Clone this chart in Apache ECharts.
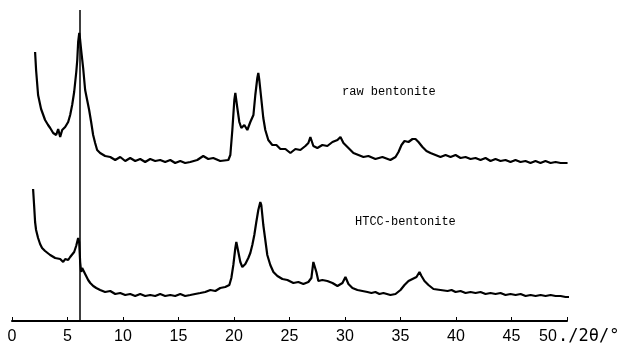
<!DOCTYPE html>
<html>
<head>
<meta charset="utf-8">
<script src="https://cdn.jsdelivr.net/npm/echarts@6/dist/echarts.min.js"></script>
<style>
  html, body { margin: 0; padding: 0; background: #fff; }
  #chart { width: 632px; height: 353px; }
</style>
</head>
<body>
<div id="chart"></div>
<script>
// 2θ (deg) and intensity (arbitrary units)
const rawPattern = [
  [2.08, 269], [2.17, 251], [2.35, 226], [2.62, 212], [2.98, 201], [3.25, 196],
  [3.44, 193], [3.71, 188], [3.98, 186], [4.16, 192], [4.34, 184], [4.52, 191],
  [4.79, 194], [5.06, 199], [5.24, 206], [5.42, 216], [5.6, 229], [5.79, 249],
  [5.88, 261], [5.96, 279], [6.06, 288], [6.14, 281], [6.23, 271], [6.41, 253],
  [6.59, 231], [6.77, 221], [6.95, 211], [7.13, 199], [7.31, 186], [7.49, 178],
  [7.67, 171], [7.94, 168], [8.39, 165], [8.85, 164], [9.3, 161], [9.75, 164],
  [10.2, 160], [10.65, 163], [11.1, 160], [11.55, 162], [12.0, 159], [12.45, 162],
  [12.9, 160], [13.35, 161], [13.8, 159], [14.26, 161], [14.7, 158], [15.16, 160],
  [15.6, 158], [16.06, 159], [16.69, 161], [17.23, 165], [17.68, 162], [18.13, 163],
  [18.76, 160], [19.49, 161], [19.67, 166], [19.85, 191], [20.03, 221], [20.12, 228],
  [20.3, 213], [20.48, 199], [20.66, 193], [20.93, 196], [21.2, 191], [21.47, 199],
  [21.75, 206], [21.92, 226], [22.1, 243], [22.19, 248], [22.28, 241], [22.47, 221],
  [22.64, 203], [22.82, 191], [23.09, 181], [23.45, 176], [23.82, 176], [24.18, 172],
  [24.63, 172], [25.08, 168], [25.53, 172], [25.98, 171], [26.43, 175], [26.7, 178],
  [26.88, 184], [27.15, 175], [27.51, 173], [27.96, 176], [28.41, 175], [28.87, 179],
  [29.32, 181], [29.59, 184], [29.86, 178], [30.22, 174], [30.49, 171], [30.76, 168],
  [31.21, 166], [31.66, 164], [32.11, 165], [32.74, 162], [33.37, 164], [34.09, 161],
  [34.55, 164], [34.82, 169], [35.09, 176], [35.36, 180], [35.72, 179], [36.08, 182],
  [36.35, 182], [36.62, 179], [36.98, 174], [37.34, 170], [37.7, 168], [38.15, 166],
  [38.6, 164], [39.06, 166], [39.51, 164], [39.96, 166], [40.41, 163], [40.86, 164],
  [41.31, 162], [41.76, 163], [42.21, 161], [42.66, 163], [43.11, 160], [43.56, 162],
  [44.01, 160], [44.46, 161], [44.91, 159], [45.36, 161], [45.81, 159], [46.26, 160],
  [46.71, 158], [47.16, 160], [47.61, 158], [48.06, 160], [48.52, 158], [48.97, 159],
  [49.42, 158], [50.05, 158]
];

const htccPattern = [
  [1.9, 132], [1.99, 116], [2.08, 99], [2.17, 91], [2.35, 83], [2.53, 77],
  [2.71, 73], [2.98, 70], [3.16, 68], [3.44, 66], [3.89, 63], [4.34, 62],
  [4.61, 59], [4.79, 62], [5.06, 61], [5.24, 64], [5.42, 65], [5.6, 69],
  [5.78, 75], [5.96, 83], [6.05, 79], [6.14, 59], [6.23, 49], [6.32, 53],
  [6.5, 49], [6.68, 45], [6.86, 41], [7.05, 38], [7.32, 35], [7.59, 33],
  [7.94, 31], [8.39, 29], [8.85, 30], [9.3, 27], [9.75, 28], [10.2, 26],
  [10.65, 27], [11.1, 25], [11.55, 27], [12.0, 25], [12.45, 26], [12.9, 25],
  [13.35, 27], [13.8, 25], [14.26, 26], [14.7, 25], [15.16, 27], [15.6, 25],
  [16.06, 26], [16.5, 27], [16.96, 28], [17.41, 29], [17.87, 31], [18.32, 30],
  [18.76, 33], [19.21, 34], [19.58, 36], [19.76, 43], [19.94, 56], [20.12, 73],
  [20.21, 79], [20.39, 69], [20.57, 59], [20.75, 54], [21.02, 57], [21.29, 63],
  [21.47, 68], [21.65, 76], [21.83, 86], [22.01, 99], [22.19, 111], [22.37, 119],
  [22.46, 116], [22.64, 96], [22.82, 81], [23.0, 66], [23.27, 56], [23.55, 49],
  [23.91, 45], [24.36, 42], [24.81, 41], [25.35, 38], [25.8, 39], [26.25, 37],
  [26.7, 39], [26.97, 43], [27.15, 59], [27.24, 61], [27.42, 49], [27.6, 40],
  [27.96, 41], [28.41, 40], [28.87, 38], [29.32, 35], [29.77, 38], [30.04, 44],
  [30.31, 37], [30.67, 33], [31.12, 31], [31.57, 30], [32.02, 29], [32.38, 28],
  [32.74, 29], [33.1, 27], [33.46, 28], [34.09, 26], [34.55, 27], [35.0, 31],
  [35.36, 36], [35.72, 40], [36.08, 42], [36.44, 44], [36.71, 49], [36.89, 45],
  [37.16, 40], [37.52, 36], [37.97, 32], [38.6, 31], [39.24, 30], [39.6, 31],
  [39.96, 29], [40.41, 30], [40.86, 28], [41.31, 29], [41.76, 28], [42.21, 29],
  [42.66, 27], [43.11, 28], [43.56, 27], [44.01, 28], [44.46, 26], [44.91, 27],
  [45.37, 26], [45.82, 27], [46.27, 25], [46.72, 26], [47.17, 25], [47.62, 26],
  [48.07, 25], [48.52, 26], [48.97, 25], [49.42, 25], [49.87, 24], [50.6, 24]
];

const xTicks = [0, 5, 10, 15, 20, 25, 30, 35, 40, 45, 50];
const markerTheta = 6.13;
const markerTop = 311;
const seriesNames = ['raw bentonite', 'HTCC-bentonite'];
const axisUnit = './2θ/°';

const chart = echarts.init(document.getElementById('chart'), null, { renderer: 'canvas' });

const tickFont = 'Liberation Sans, Arial, sans-serif';
const noteFont = 'Liberation Mono, DejaVu Sans Mono, monospace';

chart.setOption({
  animation: false,
  backgroundColor: '#fff',
  grid: { left: 12, right: 65, top: 0, bottom: 32 },
  xAxis: {
    type: 'value',
    min: xTicks[0],
    max: xTicks[xTicks.length - 1],
    interval: 5,
    splitLine: { show: false },
    axisLine: { lineStyle: { color: '#000', width: 2 } },
    axisTick: { inside: true, length: 4, lineStyle: { color: '#000', width: 1 } },
    axisLabel: {
      color: '#000',
      fontSize: 16,
      fontFamily: tickFont,
      margin: 8,
      showMinLabel: true,
      showMaxLabel: true,
      formatter: (v) => (v === 50 ? '{e|50}' : String(v)),
      rich: {
        e: { fontSize: 16, fontFamily: tickFont, color: '#000', padding: [0, 38, 0, 0] }
      }
    }
  },
  yAxis: {
    type: 'value',
    min: 0,
    max: 321,
    show: false
  },
  graphic: [
    {
      type: 'text', left: 558, top: 328,
      style: { text: axisUnit, fill: '#000', font: '17px DejaVu Sans Mono, monospace' }
    },
    {
      type: 'text', left: 342, top: 86,
      style: { text: seriesNames[0], fill: '#000', font: '12px ' + noteFont }
    },
    {
      type: 'text', left: 355, top: 216,
      style: { text: seriesNames[1], fill: '#000', font: '12px ' + noteFont }
    }
  ],
  series: [
    {
      name: seriesNames[0],
      type: 'line',
      data: rawPattern,
      showSymbol: false,
      clip: false,
      lineStyle: { color: '#000', width: 2.2 },
      markLine: {
        silent: true,
        symbol: 'none',
        label: { show: false },
        lineStyle: { color: '#000', width: 1.5, type: 'solid' },
        data: [[{ coord: [markerTheta, 0] }, { coord: [markerTheta, markerTop] }]]
      }
    },
    {
      name: seriesNames[1],
      type: 'line',
      data: htccPattern,
      showSymbol: false,
      clip: false,
      lineStyle: { color: '#000', width: 2.2 }
    }
  ]
});
</script>
</body>
</html>
